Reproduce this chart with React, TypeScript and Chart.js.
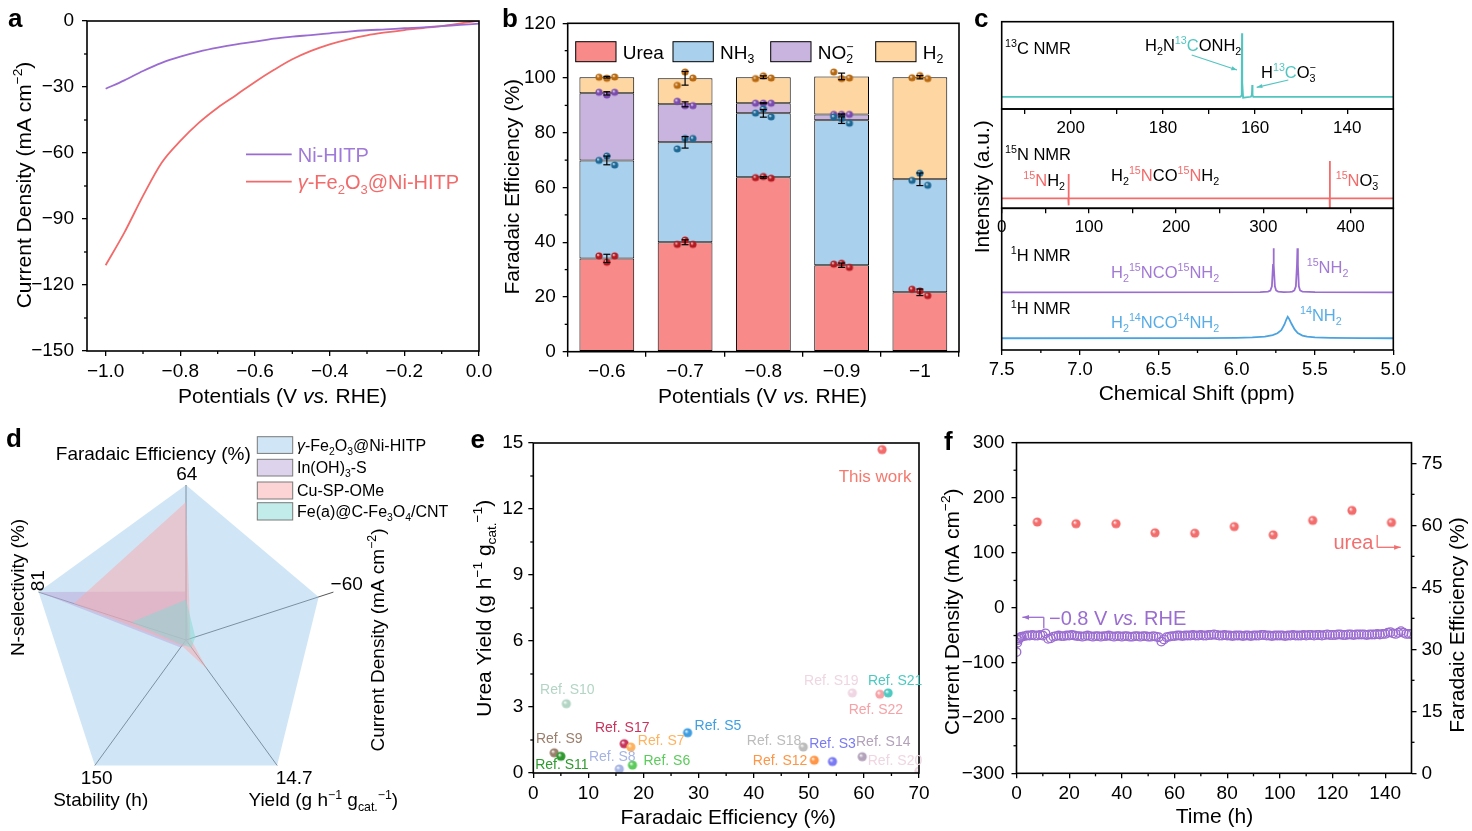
import React, { useEffect, useRef } from 'react';
import { Chart, registerables } from 'chart.js';

Chart.register(...registerables);

const W = 1472;
const H = 831;
const FONT = '"Liberation Sans", Arial, Helvetica, sans-serif';
const PI = Math.PI;
const MINUS = '\u2212';

/* ---------------- panel a : LSV ---------------- */
const potentials = [-1.0, -0.95, -0.9, -0.85, -0.8, -0.75, -0.7, -0.65, -0.6, -0.55, -0.5, -0.45, -0.4, -0.35, -0.3, -0.25, -0.2, -0.15, -0.1, -0.05, 0.0];
const currentNiHITP = [-30.8, -27.0, -22.7, -19.0, -16.2, -13.9, -12.1, -10.6, -9.4, -8.0, -7.1, -6.4, -5.6, -4.8, -4.2, -3.8, -3.3, -2.9, -2.3, -1.8, -1.2];
const currentFe2O3 = [-111.0, -96.2, -79.5, -64.4, -54.5, -46.2, -39.4, -33.6, -27.7, -22.3, -17.4, -13.6, -10.6, -8.3, -6.5, -5.2, -4.1, -3.2, -2.3, -1.1, 0.2];

/* ---------------- panel b : FE bars ---------------- */
const bPotentials = [MINUS + '0.6', MINUS + '0.7', MINUS + '0.8', MINUS + '0.9', MINUS + '1'];
const feUrea = [34.1, 40.0, 63.7, 31.6, 21.7];
const feNH3 = [35.8, 36.5, 23.4, 53.0, 41.3];
const feNO2 = [24.5, 13.9, 3.7, 2.1, 0.0];
const feH2 = [5.9, 9.5, 9.5, 13.9, 37.3];
const errUrea = [1.5, 0.9, 0.3, 0.8, 1.2];
const errNH3 = [1.6, 2.1, 1.4, 1.2, 2.3];
const errNO2 = [0.6, 0.9, 0.2, 0.2, 0.0];
const errH2 = [0.3, 2.5, 0.5, 1.2, 0.6];
const repUrea = [[35.0, 32.7, 35.0], [39.2, 40.8, 39.2], [63.6, 64.0, 63.4], [32.0, 32.3, 30.8], [22.8, 22.2, 20.5]];
const repNH3 = [[69.9, 71.5, 68.2], [74.1, 77.9, 77.9], [87.2, 88.7, 85.8], [85.8, 85.2, 83.5], [62.6, 65.2, 60.8]];
const repNO2 = [[94.8, 93.8, 94.8], [91.5, 89.9, 89.9], [90.8, 90.8, 90.8], [86.7, 86.7, 86.7], []];
const repH2 = [[100.3, 99.9, 100.4], [97.3, 102.2, 100.0], [99.8, 100.8, 100.0], [102.2, 99.8, 100.0], [100.1, 100.9, 99.8]];
const repOffsets = [-0.1, 0, 0.1];

/* ---------------- panel c : NMR ---------------- */
const c13Shift = [215, 163.2, 163.0, 162.9, 162.84, 162.78, 162.6, 160.9, 160.7, 160.62, 160.55, 160.4, 130];
const c13Int = [0.14, 0.14, 0.15, 0.3, 0.867, 0.3, 0.13, 0.14, 0.16, 0.275, 0.16, 0.14, 0.14];
const n15Shift = [0, 76.3, 76.6, 76.7, 76.8, 77.1, 376.0, 376.2, 376.3, 376.4, 376.6, 449];
const n15Int = [0.1, 0.1, 0.345, 0.03, 0.1, 0.1, 0.1, 0.476, -0.08, 0.1, 0.1, 0.1];
const h15Shift = [7.5, 5.85, 5.8, 5.785, 5.775, 5.768, 5.765, 5.762, 5.756, 5.748, 5.735, 5.7, 5.66, 5.645, 5.632, 5.622, 5.615, 5.612, 5.609, 5.603, 5.595, 5.58, 5.5, 5.0];
const h15Int = [0.407, 0.408, 0.412, 0.42, 0.45, 0.6, 0.718, 0.6, 0.45, 0.42, 0.412, 0.408, 0.41, 0.412, 0.42, 0.45, 0.6, 0.718, 0.6, 0.45, 0.42, 0.412, 0.408, 0.407];
const h14Shift = [7.5, 6.2, 6.0, 5.9, 5.82, 5.77, 5.74, 5.715, 5.695, 5.683, 5.674, 5.665, 5.65, 5.63, 5.61, 5.58, 5.55, 5.5, 5.4, 5.2, 5.0];
const h14Int = [0.083, 0.084, 0.086, 0.089, 0.095, 0.105, 0.118, 0.14, 0.18, 0.215, 0.235, 0.22, 0.185, 0.145, 0.12, 0.102, 0.094, 0.089, 0.086, 0.084, 0.083];

/* ---------------- panel d : radar ---------------- */
const radarAxisMax = [64, -60, 14.7, 150, 81];
const radarFe2O3 = [64, -54, 14.7, 150, 81];
const radarInOH = [20, -1.2, 0.4, 9, 81];
const radarCuSP = [57, -1.8, 3.4, 7, 61.6];
const radarFeC = [16.6, -3.8, 0.9, 6, 30];

/* ---------------- panel e : comparison ---------------- */
const eNames = ['This work', 'Ref. S10', 'Ref. S9', 'Ref. S11', 'Ref. S8', 'Ref. S17', 'Ref. S7', 'Ref. S6', 'Ref. S5', 'Ref. S18', 'Ref. S12', 'Ref. S3', 'Ref. S14', 'Ref. S19', 'Ref. S22', 'Ref. S21', 'Ref. S20'];
const eFE = [63.3, 6.0, 3.8, 5.0, 15.6, 16.5, 17.7, 18.0, 28.0, 49.0, 51.0, 54.3, 59.7, 57.9, 62.9, 64.4, 70.0];
const eYield = [14.7, 3.15, 0.92, 0.76, 0.18, 1.33, 1.18, 0.36, 1.83, 1.18, 0.58, 0.52, 0.74, 3.64, 3.58, 3.64, 0.09];
const eColors = ['#f46b6b', '#b3d5c5', '#9a7f6c', '#2f9a2f', '#a6b4e3', '#c9345d', '#ffb35f', '#5ccb5c', '#3f9fe1', '#bcbcbc', '#ff9545', '#7a7af4', '#b2a2ba', '#efd6e2', '#f6a2a6', '#4ec9c1', '#efd6e2'];
const eLabelLayout: [number, number, string][] = [[-7, 26, 'c'], [1, -15, 'c'], [5, -15, 'c'], [1, 8, 'c'], [-7, -13, 'c'], [-2, -17, 'c'], [7, -7, 'l'], [11, -5, 'l'], [7, -8, 'l'], [-2, -7, 'r'], [-7, 0, 'r'], [0, -19, 'c'], [21, -16, 'c'], [-21, -13, 'c'], [-4, 15, 'c'], [7, -13, 'c'], [-24, -11, 'c']];

/* ---------------- panel f : stability ---------------- */
const currentStartTimes = [0, 0.3, 0.6, 1.0, 1.5];
const currentStart = [-80, -63, -58, -55, -53];
const currentHourly = [
  -52, -51, -50, -50, -49, -50, -50, -49, -50,
  -46, -56, -55, -52, -51, -50, -51, -51, -50, -50,
  -49, -50, -51, -51, -52, -51, -50, -51, -52, -51,
  -51, -52, -51, -51, -50, -51, -52, -51, -51, -52,
  -51, -51, -52, -52, -51, -51, -52, -51, -51, -52,
  -52, -51, -52, -53, -61, -57, -53, -52, -51, -51,
  -50, -50, -51, -50, -50, -50, -49, -50, -50, -49,
  -50, -50, -49, -49, -48, -49, -50, -50, -49, -50,
  -50, -51, -50, -50, -50, -51, -50, -50, -51, -50,
  -50, -50, -49, -49, -50, -50, -51, -50, -50, -50,
  -50, -51, -50, -50, -49, -50, -50, -50, -49, -50,
  -49, -49, -50, -49, -49, -50, -49, -48, -49, -49,
  -49, -48, -48, -49, -49, -48, -48, -49, -48, -48,
  -48, -48, -49, -48, -48, -48, -47, -48, -47, -47,
  -45, -44, -46, -47, -45, -42, -45, -47, -47, -47,
];
const feTimes = [7.9, 22.6, 37.8, 52.6, 67.7, 82.7, 97.5, 112.5, 127.4, 142.4];
const feUreaStability = [60.8, 60.4, 60.4, 58.2, 58.1, 59.7, 57.7, 61.2, 63.6, 60.7];

/* ---------------- colours ---------------- */
const C_NI = '#9a6bd0';
const C_FE = '#f26a6a';
const C_UREA = '#f88a8a';
const C_NH3 = '#a9d1ee';
const C_NO2 = '#c9b4df';
const C_H2 = '#fed6a2';
const C_TEAL = '#52c5c1';
const C_RED = '#f36b6b';
const C_PUR = '#9b6dd0';
const C_BLUE = '#4aa3e0';

/* ---------------- helpers ---------------- */
type Seg = { t: string; k?: number; c?: string; i?: boolean; z?: boolean };
const n = (t: string, c?: string): Seg => ({ t, c });
const sup = (t: string, c?: string, z?: boolean): Seg => ({ t, k: 1, c, z });
const sub = (t: string, c?: string, z?: boolean): Seg => ({ t, k: 2, c, z });
const it = (t: string, c?: string): Seg => ({ t, i: true, c });

function drawRich(ctx: CanvasRenderingContext2D, segs: Seg[], x: number, y: number, size: number, color = '#000', align = 'left', rot = 0) {
  ctx.save();
  ctx.translate(x, y);
  if (rot) ctx.rotate(rot);
  const fontOf = (s: Seg) => `${s.i ? 'italic ' : ''}${s.k ? size * 0.65 : size}px ${FONT}`;
  let w = 0;
  for (const s of segs) {
    ctx.font = fontOf(s);
    if (!s.z) w += ctx.measureText(s.t).width;
  }
  let cx = align === 'center' ? -w / 2 : align === 'right' ? -w : 0;
  ctx.textAlign = 'left';
  ctx.textBaseline = 'alphabetic';
  const base = size * 0.36;
  for (const s of segs) {
    ctx.font = fontOf(s);
    ctx.fillStyle = s.c || color;
    const dy = s.k === 1 ? -size * 0.4 : s.k === 2 ? size * 0.25 : 0;
    ctx.fillText(s.t, cx, base + dy);
    if (!s.z) cx += ctx.measureText(s.t).width;
  }
  ctx.restore();
}

function seg(ctx: CanvasRenderingContext2D, x1: number, y1: number, x2: number, y2: number, color: string, lw = 1.3) {
  ctx.save();
  ctx.strokeStyle = color;
  ctx.lineWidth = lw;
  ctx.beginPath();
  ctx.moveTo(x1, y1);
  ctx.lineTo(x2, y2);
  ctx.stroke();
  ctx.restore();
}

function arrow(ctx: CanvasRenderingContext2D, x1: number, y1: number, x2: number, y2: number, color: string, lw = 1.3, head = 7) {
  seg(ctx, x1, y1, x2, y2, color, lw);
  const a = Math.atan2(y2 - y1, x2 - x1);
  ctx.save();
  ctx.fillStyle = color;
  ctx.beginPath();
  ctx.moveTo(x2, y2);
  ctx.lineTo(x2 - head * Math.cos(a - 0.35), y2 - head * Math.sin(a - 0.35));
  ctx.lineTo(x2 - head * Math.cos(a + 0.35), y2 - head * Math.sin(a + 0.35));
  ctx.closePath();
  ctx.fill();
  ctx.restore();
}

const fmt = (d: number) => (v: number) => {
  const s = Math.abs(v) < 1e-9 ? (0).toFixed(d) : v.toFixed(d);
  return s.replace('-', MINUS);
};

const LW = 70; // left axis box width
const BH = 40; // bottom axis box height
const RW = 50; // right axis box width

const pad = (L: number, T: number, R: number, B: number, lw = LW, bh = BH, rw = 0) => ({
  left: L - lw,
  top: T,
  right: W - R - rw,
  bottom: H - B - bh,
});

function lin(o: any) {
  return {
    type: 'linear',
    display: true,
    position: o.position,
    min: o.min,
    max: o.max,
    reverse: !!o.reverse,
    afterBuildTicks: (s: any) => {
      s.ticks = o.majors.map((v: number) => ({ value: v }));
    },
    afterFit: (s: any) => {
      if (s.isHorizontal()) s.height = BH;
      else s.width = o.position === 'right' ? RW : LW;
    },
    ticks: {
      callback: (v: any) => (o.fmt ? o.fmt(Number(v)) : String(v)),
      font: { family: FONT, size: o.size || 19 },
      color: '#000',
      padding: o.pad ?? 4,
      autoSkip: false,
      maxRotation: 0,
      minRotation: 0,
    },
    grid: { display: true, drawOnChartArea: false, drawTicks: true, tickLength: o.tl ?? 5, color: '#000', lineWidth: 1.3 },
    border: { display: false },
  };
}

const base = () => ({
  animation: false,
  responsive: false,
  maintainAspectRatio: false,
  events: [],
  plugins: { legend: { display: false }, tooltip: { enabled: false } },
});

const framePlugin = (lw = 1.6) => ({
  id: 'frameBox',
  afterDraw(chart: any) {
    const { ctx, chartArea: a } = chart;
    ctx.save();
    ctx.strokeStyle = '#000';
    ctx.lineWidth = lw;
    ctx.strokeRect(a.left, a.top, a.right - a.left, a.bottom - a.top);
    ctx.restore();
  },
});

const minorPlugin = (specs: any[]) => ({
  id: 'minorTicks',
  afterDraw(chart: any) {
    const { ctx, chartArea: a } = chart;
    ctx.save();
    ctx.strokeStyle = '#000';
    ctx.lineWidth = 1.3;
    for (const sp of specs) {
      const sc = chart.scales[sp.id];
      const len = sp.len || 3;
      for (const v of sp.vals) {
        const p = sc.getPixelForValue(v);
        ctx.beginPath();
        if (sc.isHorizontal()) {
          ctx.moveTo(p, a.bottom);
          ctx.lineTo(p, a.bottom + len);
        } else if (sc.position === 'right') {
          ctx.moveTo(a.right, p);
          ctx.lineTo(a.right + len, p);
        } else {
          ctx.moveTo(a.left, p);
          ctx.lineTo(a.left - len, p);
        }
        ctx.stroke();
      }
    }
    ctx.restore();
  },
});

const drawPlugin = (fn: (ctx: CanvasRenderingContext2D, chart: any) => void) => ({
  id: 'drawText',
  afterDraw(chart: any) {
    fn(chart.ctx, chart);
  },
});

function ball(color: string, r: number): HTMLCanvasElement {
  const s = Math.ceil(r * 2 + 2);
  const cv = document.createElement('canvas');
  cv.width = s;
  cv.height = s;
  const g = cv.getContext('2d')!;
  const c = s / 2;
  const grd = g.createRadialGradient(c - r * 0.35, c - r * 0.35, 0, c, c, r);
  grd.addColorStop(0, 'rgba(255,255,255,0.9)');
  grd.addColorStop(0.45, color);
  grd.addColorStop(1, color);
  g.fillStyle = grd;
  g.beginPath();
  g.arc(c, c, r, 0, PI * 2);
  g.fill();
  return cv;
}

const xy = (xs: number[], ys: number[]) => xs.map((x, i) => ({ x, y: ys[i] }));

/* ---------------- chart configs ---------------- */
function configA(): any {
  return {
    type: 'line',
    data: {
      datasets: [
        { data: xy(potentials, currentNiHITP), borderColor: C_NI, borderWidth: 1.8, pointRadius: 0, cubicInterpolationMode: 'monotone' },
        { data: xy(potentials, currentFe2O3), borderColor: C_FE, borderWidth: 1.8, pointRadius: 0, cubicInterpolationMode: 'monotone' },
      ],
    },
    options: {
      ...base(),
      layout: { padding: pad(87, 21, 479, 351) },
      scales: {
        x: lin({ min: -1.05, max: 0, majors: [-1, -0.8, -0.6, -0.4, -0.2, 0], fmt: fmt(1) }),
        y: lin({ min: -150, max: 0, majors: [-150, -120, -90, -60, -30, 0], fmt: fmt(0), pad: 8 }),
      },
    },
    plugins: [
      framePlugin(),
      minorPlugin([
        { id: 'x', vals: [-0.9, -0.7, -0.5, -0.3, -0.1] },
        { id: 'y', vals: [-135, -105, -75, -45, -15] },
      ]),
      drawPlugin((ctx) => {
        drawRich(ctx, [n('Current Density (mA cm'), sup(MINUS + '2'), n(')')], 23, 185, 21, '#000', 'center', -PI / 2);
        drawRich(ctx, [n('Potentials (V '), it('vs.'), n(' RHE)')], 282.5, 395, 21, '#000', 'center');
        seg(ctx, 246, 154.3, 291.7, 154.3, C_NI, 1.8);
        drawRich(ctx, [n('Ni-HITP')], 297.7, 154.3, 20, '#a07ad8');
        seg(ctx, 246, 181.7, 291.7, 181.7, C_FE, 1.8);
        drawRich(ctx, [it('\u03b3'), n('-Fe'), sub('2'), n('O'), sub('3'), n('@Ni-HITP')], 297.7, 181.7, 20, C_FE);
      }),
    ],
  };
}

function configB(): any {
  const bar = (data: number[], color: string) => ({
    data,
    backgroundColor: color,
    borderColor: '#000',
    borderWidth: 1,
    borderSkipped: false,
    barPercentage: 0.7,
    categoryPercentage: 1,
    stack: 's',
  });
  return {
    type: 'bar',
    data: {
      labels: bPotentials,
      datasets: [bar(feUrea, C_UREA), bar(feNH3, C_NH3), bar(feNO2, C_NO2), bar(feH2, C_H2)],
    },
    options: {
      ...base(),
      layout: { padding: pad(567.7, 23.3, 959, 351.7) },
      scales: {
        x: {
          type: 'category',
          stacked: true,
          offset: true,
          afterFit: (s: any) => {
            s.height = BH;
          },
          ticks: { font: { family: FONT, size: 19 }, color: '#000', padding: 4, autoSkip: false, maxRotation: 0, minRotation: 0 },
          grid: { display: true, offset: true, drawOnChartArea: false, drawTicks: true, tickLength: 5, color: '#000', lineWidth: 1.3 },
          border: { display: false },
        },
        y: { ...lin({ min: 0, max: 120, majors: [0, 20, 40, 60, 80, 100, 120], fmt: fmt(0), pad: 7 }), stacked: true },
      },
    },
    plugins: [
      framePlugin(),
      minorPlugin([{ id: 'y', vals: [10, 30, 50, 70, 90, 110] }]),
      drawPlugin((ctx) => {
        const legend: [number, Seg[], string][] = [
          [575.7, [n('Urea')], C_UREA],
          [673, [n('NH'), sub('3')], C_NH3],
          [770.7, [n('NO'), sub('2', undefined, true), sup(MINUS)], C_NO2],
          [875.7, [n('H'), sub('2')], C_H2],
        ];
        legend.forEach(([x, t, c]) => {
          ctx.save();
          ctx.fillStyle = c;
          ctx.fillRect(x, 41.7, 40.3, 20);
          ctx.strokeStyle = '#000';
          ctx.lineWidth = 1;
          ctx.strokeRect(x, 41.7, 40.3, 20);
          ctx.restore();
          drawRich(ctx, t, x + 47, 51.7, 19, '#000');
        });
        drawRich(ctx, [n('Faradaic Efficiency (%)')], 511.7, 186.7, 21, '#000', 'center', -PI / 2);
        drawRich(ctx, [n('Potentials (V '), it('vs.'), n(' RHE)')], 762.5, 395, 21, '#000', 'center');
      }),
    ],
  };
}

function configBDots(): any {
  const dots = (reps: number[][], color: string) => ({
    data: reps.flatMap((r, i) => r.map((v, j) => ({ x: i + repOffsets[j], y: v }))),
    pointStyle: ball(color, 3.6),
    pointRadius: 3.6,
  });
  return {
    type: 'scatter',
    data: {
      datasets: [dots(repUrea, '#b3191f'), dots(repNH3, '#1d6794'), dots(repNO2, '#7a4aae'), dots(repH2, '#b8680e')],
    },
    options: {
      ...base(),
      layout: { padding: pad(567.7, 23.3, 959, 351.7, 0, 0, 0) },
      scales: {
        x: { type: 'linear', display: false, min: -0.5, max: 4.5 },
        y: { type: 'linear', display: false, min: 0, max: 120 },
      },
    },
    plugins: [
      drawPlugin((ctx, chart) => {
        const xs = chart.scales.x;
        const ys = chart.scales.y;
        const comps: [number[], number[]][] = [[feUrea, errUrea], [feNH3, errNH3], [feNO2, errNO2], [feH2, errH2]];
        const cum = [0, 0, 0, 0, 0];
        comps.forEach(([vals, errs]) => {
          vals.forEach((v, i) => {
            cum[i] += v;
            if (errs[i] <= 0) return;
            const x = xs.getPixelForValue(i);
            const y1 = ys.getPixelForValue(cum[i] + errs[i]);
            const y2 = ys.getPixelForValue(cum[i] - errs[i]);
            seg(ctx, x, y1, x, y2, '#000', 1.2);
            seg(ctx, x - 3.5, y1, x + 3.5, y1, '#000', 1.2);
            seg(ctx, x - 3.5, y2, x + 3.5, y2, '#000', 1.2);
          });
        });
      }),
    ],
  };
}

const spectrum = (xs: number[], ys: number[], color: string) => ({
  data: xy(xs, ys),
  borderColor: color,
  borderWidth: 1.8,
  showLine: true,
  pointRadius: 0,
  tension: 0,
});

const hiddenY = { type: 'linear', display: false, min: 0, max: 1 };

function configC1(): any {
  return {
    type: 'scatter',
    data: { datasets: [spectrum(c13Shift, c13Int, C_TEAL)] },
    options: {
      ...base(),
      layout: { padding: pad(1001.7, 21.7, 1393.3, 109, 0, BH, 0) },
      scales: {
        x: lin({ min: 130, max: 215, reverse: true, majors: [210, 200, 190, 180, 170, 160, 150, 140], fmt: (v: number) => (v % 20 === 0 ? String(v) : ''), size: 17 }),
        y: hiddenY,
      },
    },
    plugins: [
      framePlugin(),
      drawPlugin((ctx) => {
        drawRich(ctx, [sup('13'), n('C NMR')], 1005, 48, 16.5);
        drawRich(ctx, [n('H'), sub('2'), n('N'), sup('13', C_TEAL), n('C', C_TEAL), n('ONH'), sub('2')], 1145, 45, 16.5);
        arrow(ctx, 1191.7, 55, 1237, 70, C_TEAL, 1.2, 6);
        drawRich(ctx, [n('H'), sup('13', C_TEAL), n('C', C_TEAL), n('O'), sub('3', undefined, true), sup(MINUS)], 1261, 72, 16.5);
        arrow(ctx, 1288.3, 80, 1256.7, 87.3, C_TEAL, 1.2, 6);
      }),
    ],
  };
}

function configC2(): any {
  return {
    type: 'scatter',
    data: { datasets: [spectrum(n15Shift, n15Int, C_RED)] },
    options: {
      ...base(),
      layout: { padding: pad(1001.7, 109, 1393.3, 208.3, 0, BH, 0) },
      scales: {
        x: lin({ min: 0, max: 449, majors: [0, 50, 100, 150, 200, 250, 300, 350, 400], fmt: (v: number) => (v % 100 === 0 ? String(v) : ''), size: 17 }),
        y: hiddenY,
      },
    },
    plugins: [
      framePlugin(),
      drawPlugin((ctx) => {
        drawRich(ctx, [sup('15'), n('N NMR')], 1005, 154, 16.5);
        drawRich(ctx, [sup('15', C_RED), n('N', C_RED), n('H'), sub('2')], 1023.3, 180, 16.5);
        drawRich(ctx, [n('H'), sub('2'), sup('15', C_RED), n('N', C_RED), n('CO'), sup('15', C_RED), n('N', C_RED), n('H'), sub('2')], 1111, 175, 16.5);
        drawRich(ctx, [sup('15', C_RED), n('N', C_RED), n('O'), sub('3', undefined, true), sup(MINUS)], 1335.7, 180, 16.5);
      }),
    ],
  };
}

function configC3(): any {
  return {
    type: 'scatter',
    data: { datasets: [spectrum(h15Shift, h15Int, C_PUR), spectrum(h14Shift, h14Int, C_BLUE)] },
    options: {
      ...base(),
      layout: { padding: pad(1001.7, 208.3, 1393.3, 350, 0, BH, 0) },
      scales: {
        x: lin({ min: 5, max: 7.5, reverse: true, majors: [7.5, 7.0, 6.5, 6.0, 5.5, 5.0], fmt: fmt(1), size: 18.5 }),
        y: hiddenY,
      },
    },
    plugins: [
      framePlugin(),
      minorPlugin([{ id: 'x', vals: [7.25, 6.75, 6.25, 5.75, 5.25] }]),
      drawPlugin((ctx) => {
        const P = '#a27ad6';
        const B = '#58ade6';
        drawRich(ctx, [sup('1'), n('H NMR')], 1010.7, 255, 16.5);
        drawRich(ctx, [n('H'), sub('2'), sup('15'), n('NCO'), sup('15'), n('NH'), sub('2')], 1111, 271.7, 16.5, P);
        drawRich(ctx, [sup('15'), n('NH'), sub('2')], 1306.7, 266.7, 16.5, P);
        drawRich(ctx, [sup('1'), n('H NMR')], 1010.7, 308.3, 16.5);
        drawRich(ctx, [n('H'), sub('2'), sup('14'), n('NCO'), sup('14'), n('NH'), sub('2')], 1111, 321.7, 16.5, B);
        drawRich(ctx, [sup('14'), n('NH'), sub('2')], 1300, 315, 16.5, B);
        drawRich(ctx, [n('Intensity (a.u.)')], 981.7, 186.7, 21, '#000', 'center', -PI / 2);
        drawRich(ctx, [n('Chemical Shift (ppm)')], 1196.7, 392.7, 21, '#000', 'center');
      }),
    ],
  };
}

function configD(): any {
  const ds = (vals: number[], color: string, order: number) => ({
    data: vals.map((v, i) => v / radarAxisMax[i]),
    backgroundColor: color,
    borderColor: 'rgba(0,0,0,0)',
    borderWidth: 0,
    pointRadius: 0,
    fill: true,
    order,
  });
  return {
    type: 'radar',
    data: {
      labels: ['FE', 'CD', 'Yield', 'Stability', 'N-sel'],
      datasets: [
        ds(radarFe2O3, 'rgba(161,205,237,0.5)', 4),
        ds(radarInOH, 'rgba(187,167,217,0.5)', 3),
        ds(radarCuSP, 'rgba(249,169,171,0.5)', 2),
        ds(radarFeC, 'rgba(133,217,211,0.5)', 1),
      ],
    },
    options: {
      ...base(),
      layout: { padding: { left: 31.7, top: 485, right: W - 341.7, bottom: H - 795 } },
      elements: { line: { tension: 0 } },
      scales: {
        r: {
          min: 0,
          max: 1,
          startAngle: 0,
          z: 1,
          grid: { display: false },
          angleLines: { display: true, color: '#555', lineWidth: 1 },
          pointLabels: { display: false },
          ticks: { display: false },
        },
      },
    },
    plugins: [
      drawPlugin((ctx) => {
        drawRich(ctx, [n('Faradaic Efficiency (%)')], 153.3, 453.3, 19, '#000', 'center');
        drawRich(ctx, [n('64')], 186.7, 473.3, 19, '#000', 'center');
        drawRich(ctx, [n(MINUS + '60')], 346.7, 583.3, 19, '#000', 'center');
        drawRich(ctx, [n('Current Density (mA cm'), sup(MINUS + '2'), n(')')], 376.7, 640, 19, '#000', 'center', -PI / 2);
        drawRich(ctx, [n('14.7')], 294.2, 776.7, 19, '#000', 'center');
        drawRich(ctx, [n('Yield (g h'), sup(MINUS + '1'), n(' g'), sub('cat.'), sup(MINUS + '1'), n(')')], 323.3, 799.3, 19, '#000', 'center');
        drawRich(ctx, [n('150')], 96.7, 776.7, 19, '#000', 'center');
        drawRich(ctx, [n('Stability (h)')], 100.7, 799.3, 19, '#000', 'center');
        drawRich(ctx, [n('81')], 36.7, 580.7, 19, '#000', 'center', -PI / 2);
        drawRich(ctx, [n('N-selectivity (%)')], 16.7, 587.5, 19, '#000', 'center', -PI / 2);
        const lg: [number, number, string, Seg[]][] = [
          [436.7, 16.7, '#d0e6f6', [it('\u03b3'), n('-Fe'), sub('2'), n('O'), sub('3'), n('@Ni-HITP')]],
          [459.3, 16.7, '#ddd3ec', [n('In(OH)'), sub('3'), n('-S')]],
          [482, 17, '#fcd4d5', [n('Cu-SP-OMe')]],
          [502.7, 17.3, '#c2ece9', [n('Fe(a)@C-Fe'), sub('3'), n('O'), sub('4'), n('/CNT')]],
        ];
        lg.forEach(([y, h, c, t]) => {
          ctx.save();
          ctx.fillStyle = c;
          ctx.fillRect(257.3, y, 35.4, h);
          ctx.strokeStyle = '#7a7a7a';
          ctx.lineWidth = 1;
          ctx.strokeRect(257.3, y, 35.4, h);
          ctx.restore();
          drawRich(ctx, t, 297, y + h / 2, 16, '#000');
        });
      }),
    ],
  };
}

function configE(): any {
  return {
    type: 'scatter',
    data: {
      datasets: [
        {
          data: xy(eFE, eYield),
          pointStyle: eColors.map((c) => ball(c, 4.6)),
          pointRadius: 4.6,
        },
      ],
    },
    options: {
      ...base(),
      layout: { padding: pad(533.3, 443, 919, 773) },
      scales: {
        x: lin({ min: 0, max: 70, majors: [0, 10, 20, 30, 40, 50, 60, 70], fmt: fmt(0) }),
        y: lin({ min: 0, max: 15, majors: [0, 3, 6, 9, 12, 15], fmt: fmt(0), pad: 5 }),
      },
    },
    plugins: [
      framePlugin(),
      minorPlugin([
        { id: 'x', vals: [5, 15, 25, 35, 45, 55, 65] },
        { id: 'y', vals: [1.5, 4.5, 7.5, 10.5, 13.5] },
      ]),
      drawPlugin((ctx, chart) => {
        const xs = chart.scales.x;
        const ys = chart.scales.y;
        eNames.forEach((name, i) => {
          const [dx, dy, al] = eLabelLayout[i];
          const px = xs.getPixelForValue(eFE[i]) + dx;
          const py = ys.getPixelForValue(eYield[i]) + dy;
          const align = al === 'l' ? 'left' : al === 'r' ? 'right' : 'center';
          drawRich(ctx, [n(name)], px, py, i === 0 ? 17 : 14, i === 0 ? '#f47a6f' : eColors[i], align);
        });
        drawRich(ctx, [n('Urea Yield (g h'), sup(MINUS + '1'), n(' g'), sub('cat.'), sup(MINUS + '1'), n(')')], 483.3, 608.3, 21, '#000', 'center', -PI / 2);
        drawRich(ctx, [n('Faradaic Efficiency (%)')], 728.3, 816.7, 21, '#000', 'center');
      }),
    ],
  };
}

function configF(): any {
  const currentData = [
    ...xy(currentStartTimes, currentStart),
    ...currentHourly.map((y, i) => ({ x: i + 2, y })),
  ];
  return {
    type: 'scatter',
    data: {
      datasets: [
        {
          data: currentData,
          yAxisID: 'y',
          pointStyle: 'circle',
          pointRadius: 4.3,
          borderWidth: 1.3,
          borderColor: C_PUR,
          backgroundColor: 'rgba(255,255,255,0)',
          order: 1,
        },
        {
          data: xy(feTimes, feUreaStability),
          yAxisID: 'y2',
          pointStyle: ball('#f36d6d', 4.6),
          pointRadius: 4.6,
          order: 0,
        },
      ],
    },
    options: {
      ...base(),
      layout: { padding: pad(1016.5, 442.7, 1411.5, 773.3, LW, BH, RW) },
      scales: {
        x: lin({ min: 0, max: 150, majors: [0, 20, 40, 60, 80, 100, 120, 140], fmt: fmt(0) }),
        y: lin({ min: -300, max: 300, majors: [-300, -200, -100, 0, 100, 200, 300], fmt: fmt(0), pad: 7 }),
        y2: lin({ min: 0, max: 80, majors: [0, 15, 30, 45, 60, 75], fmt: fmt(0), position: 'right', pad: 5 }),
      },
    },
    plugins: [
      framePlugin(),
      minorPlugin([
        { id: 'x', vals: [10, 30, 50, 70, 90, 110, 130] },
        { id: 'y', vals: [-250, -150, -50, 50, 150, 250] },
        { id: 'y2', vals: [7.5, 22.5, 37.5, 52.5, 67.5] },
      ]),
      drawPlugin((ctx) => {
        drawRich(ctx, [n('Current Density (mA cm'), sup(MINUS + '2'), n(')')], 951, 611.7, 21, '#000', 'center', -PI / 2);
        drawRich(ctx, [n('Faradaic Efficiency (%)')], 1456, 625, 21, '#000', 'center', -PI / 2);
        drawRich(ctx, [n('Time (h)')], 1214.5, 815, 21, '#000', 'center');
        drawRich(ctx, [n(MINUS + '0.8 V '), it('vs.'), n(' RHE')], 1049, 617.3, 20, C_PUR);
        seg(ctx, 1043.8, 617.3, 1043.8, 628.3, C_PUR, 1.3);
        arrow(ctx, 1043.8, 617.3, 1022.4, 617.3, C_PUR, 1.3, 7);
        drawRich(ctx, [n('urea')], 1333.4, 541.7, 20, '#f26f6f');
        seg(ctx, 1377.2, 535, 1377.2, 547.3, '#f26f6f', 1.3);
        arrow(ctx, 1377.2, 547.3, 1400.7, 547.3, '#f26f6f', 1.3, 7);
      }),
    ],
  };
}

function drawLetters(cv: HTMLCanvasElement) {
  const ctx = cv.getContext('2d');
  if (!ctx) return;
  ctx.clearRect(0, 0, W, H);
  ctx.fillStyle = '#000';
  ctx.font = `bold 26px ${FONT}`;
  ctx.textBaseline = 'alphabetic';
  ctx.textAlign = 'left';
  const letters: [string, number, number][] = [
    ['a', 8, 27],
    ['b', 502, 27],
    ['c', 974, 27],
    ['d', 6, 447],
    ['e', 470.5, 448.3],
    ['f', 944, 450],
  ];
  letters.forEach(([t, x, y]) => ctx.fillText(t, x, y));
}

export default function App() {
  const refs = useRef<(HTMLCanvasElement | null)[]>([]);
  const builders = [configA, configB, configBDots, configC1, configC2, configC3, configD, configE, configF];
  useEffect(() => {
    document.body.style.margin = '0';
    document.documentElement.style.overflow = 'hidden';
    Chart.defaults.font.family = FONT;
    Chart.defaults.color = '#000';
    const charts: Chart[] = [];
    builders.forEach((b, i) => {
      const cv = refs.current[i];
      if (cv) charts.push(new Chart(cv, b()));
    });
    const ov = refs.current[builders.length];
    if (ov) drawLetters(ov);
    return () => {
      charts.forEach((c) => c.destroy());
    };
  }, []);
  return (
    <div style={{ position: 'absolute', left: 0, top: 0, width: W, height: H, background: '#fff', overflow: 'hidden' }}>
      {Array.from({ length: builders.length + 1 }).map((_, i) => (
        <canvas
          key={i}
          ref={(el) => {
            refs.current[i] = el;
          }}
          width={W}
          height={H}
          style={{ position: 'absolute', left: 0, top: 0, width: W, height: H }}
        />
      ))}
    </div>
  );
}
